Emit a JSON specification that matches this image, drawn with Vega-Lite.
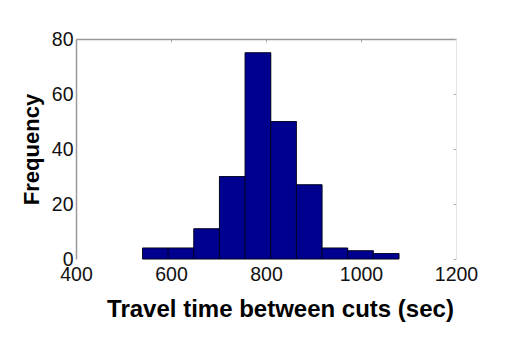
{
  "$schema": "https://vega.github.io/schema/vega-lite/v6.json",
  "width": 380,
  "height": 220,
  "autosize": {"type": "none"},
  "padding": {"left": 76, "top": 39, "right": 66, "bottom": 80},
  "background": "white",
  "config": {
    "view": {"stroke": null},
    "font": "Liberation Sans",
    "axis": {"grid": false, "labelFont": "Liberation Sans", "titleFont": "Liberation Sans", "labelFlush": false, "labelOverlap": false}
  },
  "data": {
    "values": [
      {"bin_start": 540, "bin_end": 594, "frequency": 4},
      {"bin_start": 594, "bin_end": 648, "frequency": 4},
      {"bin_start": 648, "bin_end": 702, "frequency": 11},
      {"bin_start": 702, "bin_end": 756, "frequency": 30},
      {"bin_start": 756, "bin_end": 810, "frequency": 75},
      {"bin_start": 810, "bin_end": 864, "frequency": 50},
      {"bin_start": 864, "bin_end": 918, "frequency": 27},
      {"bin_start": 918, "bin_end": 972, "frequency": 4},
      {"bin_start": 972, "bin_end": 1026, "frequency": 3},
      {"bin_start": 1026, "bin_end": 1080, "frequency": 2}
    ]
  },
  "resolve": {"axis": {"x": "independent", "y": "independent"}},
  "layer": [
    {
      "mark": {"type": "rect", "color": "#00008f", "stroke": "#000000", "strokeWidth": 0.6},
      "encoding": {
        "x": {
          "field": "bin_start", "type": "quantitative",
          "scale": {"domain": [400, 1200], "nice": false, "zero": false},
          "axis": {
            "orient": "top", "labels": false, "title": null,
            "values": [400, 600, 800, 1000, 1200],
            "domain": true, "domainColor": "#999999", "domainWidth": 1.5,
            "ticks": true, "tickSize": -3, "tickColor": "#aaaaaa"
          }
        },
        "x2": {"field": "bin_end"},
        "y": {
          "field": "frequency", "type": "quantitative",
          "scale": {"domain": [0, 80], "nice": false},
          "axis": {
            "orient": "right", "labels": false, "title": null,
            "values": [0, 20, 40, 60, 80],
            "domain": true, "domainColor": "#e4e4e4", "domainWidth": 1,
            "ticks": true, "tickSize": -3, "tickColor": "#aaaaaa"
          }
        },
        "y2": {"datum": 0}
      }
    },
    {
      "mark": {"type": "rect", "color": "#00008f", "stroke": "#000000", "strokeWidth": 0.6},
      "encoding": {
        "x": {
          "field": "bin_start", "type": "quantitative",
          "scale": {"domain": [400, 1200], "nice": false, "zero": false},
          "axis": {
            "orient": "bottom",
            "title": "Travel time between cuts (sec)",
            "values": [400, 600, 800, 1000, 1200],
            "format": "d",
            "domain": false, "ticks": false,
            "labelFontSize": 19.5, "labelColor": "#111111", "labelPadding": 6,
            "titleFontSize": 24, "titleFontWeight": "bold", "titleColor": "#000000",
            "titleX": 204, "titleY": 57, "titleBaseline": "alphabetic", "titleAlign": "center", "titleAnchor": null
          }
        },
        "x2": {"field": "bin_end"},
        "y": {
          "field": "frequency", "type": "quantitative",
          "scale": {"domain": [0, 80], "nice": false},
          "axis": {
            "orient": "left",
            "title": "Frequency",
            "values": [0, 20, 40, 60, 80],
            "format": "d",
            "domain": true, "domainColor": "#999999", "domainWidth": 1.5,
            "ticks": false,
            "labelFontSize": 19.5, "labelColor": "#111111", "labelPadding": 3,
            "titleFontSize": 22, "titleFontWeight": "bold", "titleColor": "#000000",
            "titleAngle": 270, "titleX": -45, "titleY": 110, "titleBaseline": "middle", "titleAlign": "center", "titleAnchor": null
          }
        },
        "y2": {"datum": 0}
      }
    }
  ]
}
